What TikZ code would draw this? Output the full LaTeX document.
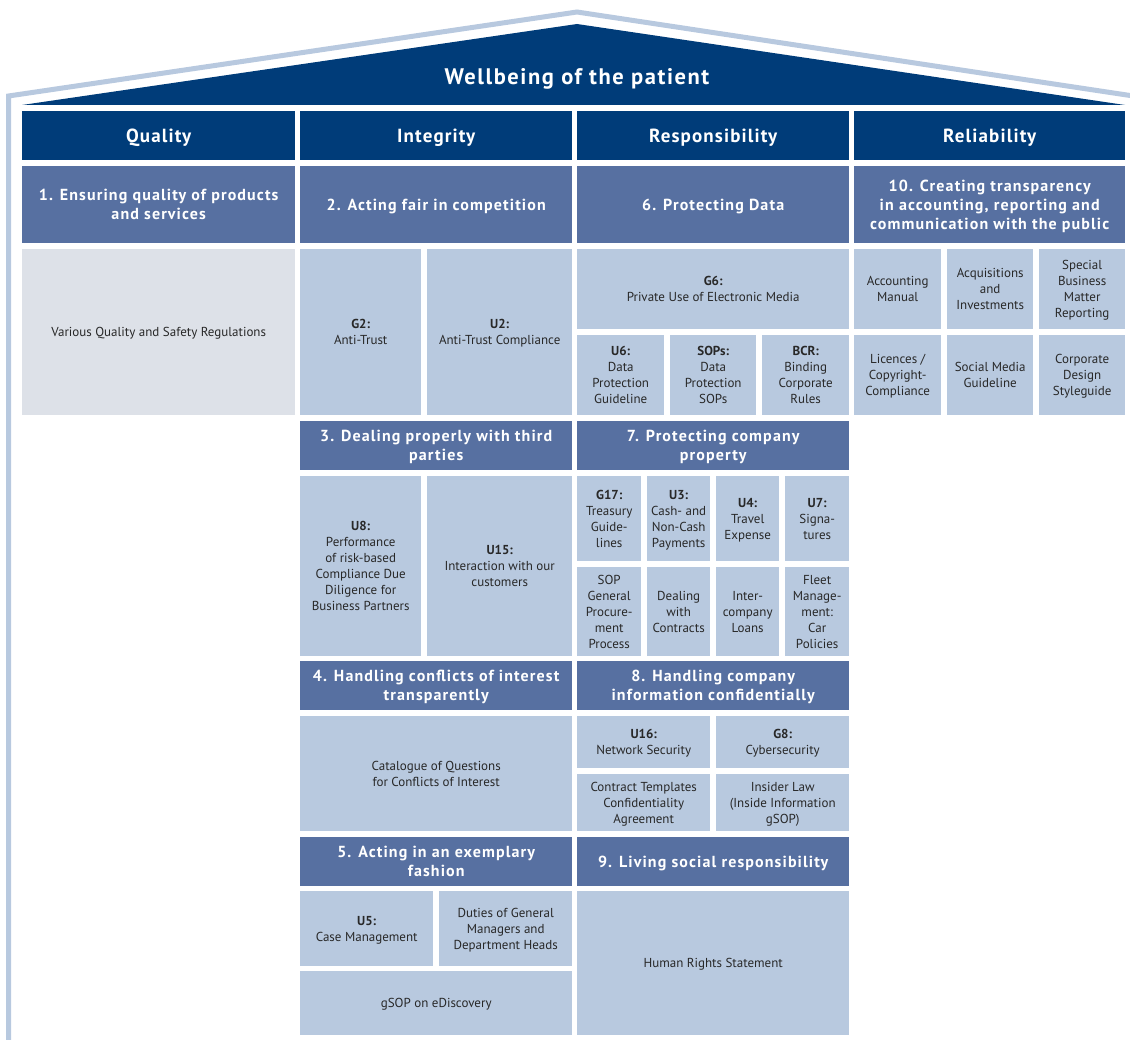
\documentclass[tikz,border=0pt]{standalone}
\usepackage{fontspec}
\setmainfont{PT Sans}
\newfontfamily\spaced[LetterSpace=7]{PT Sans}
\newfontfamily\wide[LetterSpace=6]{PT Sans}
\usepackage{tikz}

\definecolor{roofblue}{RGB}{0,60,121}
\definecolor{topicblue}{RGB}{87,112,161}
\definecolor{cellblue}{RGB}{184,201,223}
\definecolor{cellgray}{RGB}{221,225,232}
\definecolor{inkgray}{RGB}{40,40,40}

\tikzset{
  pillar/.style={fill=roofblue, text=white, anchor=north west, inner sep=0, minimum height=49,
    text depth=-7, font=\wide\bfseries\fontsize{19}{22}\selectfont},
  topic/.style={fill=topicblue, text=white, anchor=north west, inner sep=0, align=center,
    text depth=-4, font=\spaced\bfseries\fontsize{16}{19}\selectfont},
  doc/.style={fill=cellblue, text=inkgray, anchor=north west, inner sep=0, align=center,
    text depth=-5, font=\fontsize{13}{16}\selectfont},
}

\begin{document}
\begin{tikzpicture}[x=1pt, y=-1pt]
\useasboundingbox (0,0) rectangle (1130,1040);

% roof and outer wall
\fill[roofblue] (22,105) -- (577,24) -- (1125,105) -- cycle;
\draw[cellblue, line width=5] (8.5,1045) -- (8.5,96) -- (577,12) -- (1140,97);
\node[text=white, font=\spaced\bfseries\fontsize{22.5}{24}\selectfont] (patient) at (577,79) {Wellbeing of the patient};

% pillars
\node[pillar, minimum width=273] (quality) at (22,111) {Quality};
\node[pillar, minimum width=272] (integrity) at (300,111) {Integrity};
\node[pillar, minimum width=272] (responsibility) at (577,111) {Responsibility};
\node[pillar, minimum width=271] (reliability) at (854,111) {Reliability};

% Quality
\node[topic, minimum width=273, minimum height=77] (t1) at (22,166) {1. Ensuring quality of products\\and services};
\node[doc, fill=cellgray, minimum width=273, minimum height=166] (regs) at (22,249) {Various Quality and Safety Regulations};

% Integrity
\node[topic, minimum width=272, minimum height=77] (t2) at (300,166) {2. Acting fair in competition};
\node[doc, minimum width=121, minimum height=166] (g2) at (300,249) {\textbf{G2:}\\Anti-Trust};
\node[doc, minimum width=145, minimum height=166] (u2) at (427,249) {\textbf{U2:}\\Anti-Trust Compliance};
\node[topic, minimum width=272, minimum height=49] (t3) at (300,421) {3. Dealing properly with third\\parties};
\node[doc, minimum width=121, minimum height=180] (u8) at (300,476) {\textbf{U8:}\\Performance\\of risk-based\\Compliance Due\\Diligence for\\Business Partners};
\node[doc, minimum width=145, minimum height=180] (u15) at (427,476) {\textbf{U15:}\\Interaction with our\\customers};
\node[topic, minimum width=272, minimum height=49] (t4) at (300,661) {4. Handling conflicts of interest\\transparently};
\node[doc, minimum width=272, minimum height=115] (catalogue) at (300,716) {Catalogue of Questions\\for Conflicts of Interest};
\node[topic, minimum width=272, minimum height=49] (t5) at (300,837) {5. Acting in an exemplary\\fashion};
\node[doc, minimum width=133, minimum height=75] (u5) at (300,891) {\textbf{U5:}\\Case Management};
\node[doc, minimum width=133, minimum height=75] (duties) at (439,891) {Duties of General\\Managers and\\Department Heads};
\node[doc, minimum width=272, minimum height=64] (ediscovery) at (300,971) {gSOP on eDiscovery};

% Responsibility
\node[topic, minimum width=272, minimum height=77] (t6) at (577,166) {6. Protecting Data};
\node[doc, minimum width=272, minimum height=80] (g6) at (577,249) {\textbf{G6:}\\Private Use of Electronic Media};
\node[doc, minimum width=87, minimum height=80] (u6) at (577,335) {\textbf{U6:}\\Data\\Protection\\Guideline};
\node[doc, minimum width=86, minimum height=80] (sops) at (670,335) {\textbf{SOPs:}\\Data\\Protection\\SOPs};
\node[doc, minimum width=87, minimum height=80] (bcr) at (762,335) {\textbf{BCR:}\\Binding\\Corporate\\Rules};
\node[topic, minimum width=272, minimum height=49] (t7) at (577,421) {7. Protecting company\\property};
\node[doc, minimum width=64, minimum height=85] (g17) at (577,476) {\textbf{G17:}\\Treasury\\Guide-\\lines};
\node[doc, minimum width=63, minimum height=85] (u3) at (647,476) {\textbf{U3:}\\Cash- and\\Non-Cash\\Payments};
\node[doc, minimum width=63, minimum height=85] (u4) at (716,476) {\textbf{U4:}\\Travel\\Expense};
\node[doc, minimum width=64, minimum height=85] (u7) at (785,476) {\textbf{U7:}\\Signa-\\tures};
\node[doc, minimum width=64, minimum height=89] (procurement) at (577,567) {SOP\\General\\Procure-\\ment\\Process};
\node[doc, minimum width=63, minimum height=89] (contracts) at (647,567) {Dealing\\with\\Contracts};
\node[doc, minimum width=63, minimum height=89] (loans) at (716,567) {Inter-\\company\\Loans};
\node[doc, minimum width=64, minimum height=89] (fleet) at (785,567) {Fleet\\Manage-\\ment:\\Car\\Policies};
\node[topic, minimum width=272, minimum height=49] (t8) at (577,661) {8. Handling company\\information confidentially};
\node[doc, minimum width=133, minimum height=52] (u16) at (577,716) {\textbf{U16:}\\Network Security};
\node[doc, minimum width=133, minimum height=52] (g8) at (716,716) {\textbf{G8:}\\Cybersecurity};
\node[doc, minimum width=133, minimum height=57] (templates) at (577,774) {Contract Templates\\Confidentiality\\Agreement};
\node[doc, minimum width=133, minimum height=57] (insider) at (716,774) {Insider Law\\(Inside Information\\gSOP)};
\node[topic, minimum width=272, minimum height=49] (t9) at (577,837) {9. Living social responsibility};
\node[doc, minimum width=272, minimum height=144] (rights) at (577,891) {Human Rights Statement};

% Reliability
\node[topic, minimum width=271, minimum height=77] (t10) at (854,166) {10. Creating transparency\\in accounting, reporting and\\communication with the public};
\node[doc, minimum width=87, minimum height=80] (accounting) at (854,249) {Accounting\\Manual};
\node[doc, minimum width=86, minimum height=80] (acquisitions) at (947,249) {Acquisitions\\and\\Investments};
\node[doc, minimum width=86, minimum height=80] (special) at (1039,249) {Special\\Business\\Matter\\Reporting};
\node[doc, minimum width=87, minimum height=80] (licences) at (854,335) {Licences /\\Copyright-\\Compliance};
\node[doc, minimum width=86, minimum height=80] (social) at (947,335) {Social Media\\Guideline};
\node[doc, minimum width=86, minimum height=80] (design) at (1039,335) {Corporate\\Design\\Styleguide};
\end{tikzpicture}
\end{document}
